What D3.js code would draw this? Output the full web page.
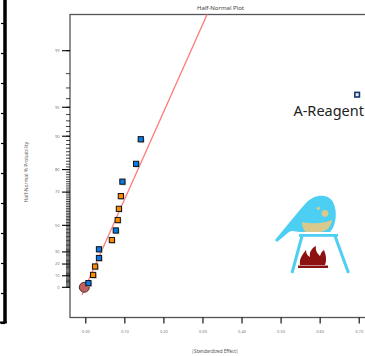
<!DOCTYPE html>
<html>
<head>
<meta charset="utf-8">
<script src="https://cdn.jsdelivr.net/npm/d3@7"></script>
<style>
  html, body { margin: 0; padding: 0; background: #fff; }
  svg { display: block; font-family: "Noto Sans", "Open Sans", sans-serif; }
</style>
</head>
<body>
<svg id="chart" width="365" height="356"></svg>
<script>
// Data
const effects = [0.008, 0.020, 0.025, 0.035, 0.035, 0.068, 0.078, 0.083, 0.086, 0.091, 0.095, 0.130, 0.142, 0.696];
const probabilities = [3.6, 10.7, 17.9, 25.0, 32.1, 39.3, 46.4, 53.6, 60.7, 67.9, 75.0, 82.1, 89.3, 96.4];
const signs = ["+", "-", "-", "+", "+", "-", "+", "-", "-", "-", "+", "+", "+", "+"];
const termLabels = ["", "", "", "", "", "", "", "", "", "", "", "", "", "A-Reagent"];
const xTicks = [0, 0.1, 0.2, 0.3, 0.4, 0.5, 0.6, 0.7];
const yMajorTicks = [0, 10, 20, 30, 50, 70, 80, 90, 95, 99];
const yMinorTicks = d3.range(0, 100);
const fitSlope = 0.105; // effect per unit of half-normal score

// Config Values
const W = 365, H = 356;
const FRAME = { left: 70, top: 14.5, right: 366, bottom: 317.5 };
const BLUE = "#0a78e6", ORANGE = "#ff8a00";
const svg = d3.select("#chart");

// inverse normal cdf (Acklam)
const probit = (p) => {
  const a = [-39.69683028665376, 220.9460984245205, -275.9285104469687, 138.3577518672690, -30.66479806614716, 2.506628277459239];
  const b = [-54.47609879822406, 161.5858368580409, -155.6989798598866, 66.80131188771972, -13.28068155288572];
  const c = [-0.007784894002430293, -0.3223964580411365, -2.400758277161838, -2.549732539343734, 4.374664141464968, 2.938163982698783];
  const dd = [0.007784695709041462, 0.3224671290700398, 2.445134137142996, 3.754408661907416];
  const pl = 0.02425;
  let q, r;
  if (p < pl) {
    q = Math.sqrt(-2 * Math.log(p));
    return (((((c[0]*q+c[1])*q+c[2])*q+c[3])*q+c[4])*q+c[5]) / ((((dd[0]*q+dd[1])*q+dd[2])*q+dd[3])*q+1);
  } else if (p <= 1 - pl) {
    q = p - 0.5; r = q * q;
    return (((((a[0]*r+a[1])*r+a[2])*r+a[3])*r+a[4])*r+a[5])*q / (((((b[0]*r+b[1])*r+b[2])*r+b[3])*r+b[4])*r+1);
  }
  q = Math.sqrt(-2 * Math.log(1 - p));
  return -(((((c[0]*q+c[1])*q+c[2])*q+c[3])*q+c[4])*q+c[5]) / ((((dd[0]*q+dd[1])*q+dd[2])*q+dd[3])*q+1);
};
const halfScore = (pct) => pct <= 0 ? 0 : probit(0.5 + pct / 200);

const x = d3.scaleLinear().domain([0, 0.7]).range([85.3, 358.7]);
const z = d3.scaleLinear().domain([0, halfScore(99)]).range([287.3, 50.7]);
const y = (pct) => z(halfScore(pct));

// clipped piece of a neighbouring axis at the far left
const sideScale = d3.scaleLinear().domain([0, 10]).range([323, 23]);
const side = svg.append("g").attr("transform", "translate(5,0)")
  .call(d3.axisLeft(sideScale).ticks(10).tickSize(4).tickSizeOuter(0).tickFormat(""));
side.select(".domain").attr("stroke-width", 3.5).attr("d", "M0,0V323");
side.selectAll(".tick line").attr("stroke-width", 1.2);
svg.append("line").attr("x1", 0).attr("x2", 6.8).attr("y1", 322.5).attr("y2", 322.5)
  .attr("stroke", "#000").attr("stroke-width", 2);

// frame
svg.append("rect")
  .attr("x", FRAME.left).attr("y", FRAME.top)
  .attr("width", FRAME.right - FRAME.left).attr("height", FRAME.bottom - FRAME.top)
  .attr("fill", "none").attr("stroke", "#555").attr("stroke-width", 1.3);

// y ticks
const yAxisG = svg.append("g");
yAxisG.selectAll("line.minor").data(yMinorTicks).join("line")
  .attr("x1", 66).attr("x2", FRAME.left)
  .attr("y1", d => y(d)).attr("y2", d => y(d))
  .attr("stroke", "#111").attr("stroke-width", 0.8);
yAxisG.selectAll("line.major").data(yMajorTicks).join("line")
  .attr("x1", 62).attr("x2", FRAME.left)
  .attr("y1", d => y(d)).attr("y2", d => y(d))
  .attr("stroke", "#000").attr("stroke-width", 1.1);
yAxisG.selectAll("text").data(yMajorTicks).join("text")
  .attr("x", 59.5).attr("y", d => y(d)).attr("dy", "0.35em")
  .attr("text-anchor", "end").attr("font-size", 4).attr("fill", "#777")
  .text(d => d);

// x axis
const xAxisG = svg.append("g").attr("transform", `translate(0,${FRAME.bottom})`)
  .call(d3.axisBottom(x).tickValues(xTicks).tickSize(6).tickPadding(7).tickFormat(d3.format(".2f")));
xAxisG.select(".domain").remove();
xAxisG.selectAll(".tick line").attr("stroke", "#000").attr("stroke-width", 1.1);
xAxisG.selectAll(".tick text").attr("font-size", 4).attr("fill", "#777")
  .attr("font-family", "'Noto Sans', sans-serif");

// titles
svg.append("text").attr("x", 220.5).attr("y", 10).attr("text-anchor", "middle")
  .attr("font-size", 6).attr("fill", "#444").text("Half-Normal Plot");
svg.append("text").attr("x", 215).attr("y", 353).attr("text-anchor", "middle")
  .attr("font-size", 4.6).attr("fill", "#555").text("|Standardized Effect|");
svg.append("text").attr("transform", "translate(28,172) rotate(-90)").attr("text-anchor", "middle")
  .attr("font-size", 5).attr("fill", "#666").text("Half-Normal % Probability");

// plot area
svg.append("clipPath").attr("id", "plotclip").append("rect")
  .attr("x", FRAME.left).attr("y", FRAME.top)
  .attr("width", FRAME.right - FRAME.left).attr("height", FRAME.bottom - FRAME.top);
const plot = svg.append("g").attr("clip-path", "url(#plotclip)");

// fitted line through the origin
plot.append("line")
  .attr("x1", x(fitSlope * -0.08)).attr("y1", z(-0.08))
  .attr("x2", x(fitSlope * 3.2)).attr("y2", z(3.2))
  .attr("stroke", "#ff7a7a").attr("stroke-width", 1.3);

// origin marker
plot.append("circle").attr("cx", x(-0.0025)).attr("cy", y(0)).attr("r", 5)
  .attr("fill", "#c2605f").attr("stroke", "#3a2020").attr("stroke-width", 0.9);

const points = effects.map((e, i) => ({ e, p: probabilities[i], s: signs[i], label: termLabels[i] }));
const S = 5.2;
const plain = points.filter(d => !d.label);
plot.selectAll("rect.shadow").data(plain).join("rect")
  .attr("x", d => x(d.e) - S / 2 + 1.2).attr("y", d => y(d.p) - S / 2 + 1.2)
  .attr("width", S).attr("height", S).attr("fill", "#bbb").attr("opacity", 0.7);
plot.selectAll("rect.pt").data(plain).join("rect")
  .attr("x", d => x(d.e) - S / 2).attr("y", d => y(d.p) - S / 2)
  .attr("width", S).attr("height", S)
  .attr("fill", d => d.s === "+" ? BLUE : ORANGE)
  .attr("stroke", "#111").attr("stroke-width", 1);

// labelled term
const named = points.filter(d => d.label);
plot.selectAll("rect.named").data(named).join("rect")
  .attr("x", d => x(d.e) - 2.3).attr("y", d => y(d.p) - 2.3)
  .attr("width", 4.6).attr("height", 4.6)
  .attr("fill", "#e8f0ff").attr("stroke", "#12386e").attr("stroke-width", 1.6);
svg.selectAll("text.term").data(named).join("text")
  .attr("x", 364).attr("y", d => y(d.p) + 21)
  .attr("text-anchor", "end").attr("font-size", 14.5).attr("fill", "#222")
  .text(d => d.label);

// logo (flask over a fire)
const logo = svg.append("g");
logo.append("path")
  .attr("d", "M275,240 C285,228 296,214 306,203 C314,194 328,193 333,202 C338,212 336,226 330,232 L300,232 C296,232 292,230 289,232 C285,235 281,239 277,242 Z")
  .attr("fill", "#4ccff2");
logo.append("path")
  .attr("d", "M302,222 C312,224 322,224 332,220 C331,227 327,231 320,232 L306,232 C303,230 302,226 302,222 Z")
  .attr("fill", "#d9c98a");
logo.append("circle").attr("cx", 318.3).attr("cy", 208.3).attr("r", 1.6).attr("fill", "#d9c98a");
logo.append("circle").attr("cx", 325).attr("cy", 213.3).attr("r", 3.4).attr("fill", "#d9c98a");
logo.append("rect").attr("x", 299).attr("y", 234).attr("width", 39).attr("height", 2.8).attr("fill", "#4ccff2");
logo.append("line").attr("x1", 302).attr("y1", 236).attr("x2", 292).attr("y2", 273)
  .attr("stroke", "#4ccff2").attr("stroke-width", 3);
logo.append("line").attr("x1", 335).attr("y1", 236).attr("x2", 348.5).attr("y2", 273)
  .attr("stroke", "#4ccff2").attr("stroke-width", 3);
logo.append("path")
  .attr("d", "M300,265 C299,258 303,254 306,250 C306,254 308,256 310,257 C309,252 312,248 316,246 C315,251 318,254 320,256 C321,253 322,251 324,250 C326,255 327,260 325,265 Z")
  .attr("fill", "#8c1212");
logo.append("rect").attr("x", 298).attr("y", 265.5).attr("width", 30).attr("height", 2.5).attr("fill", "#8c1212");
</script>
</body>
</html>
